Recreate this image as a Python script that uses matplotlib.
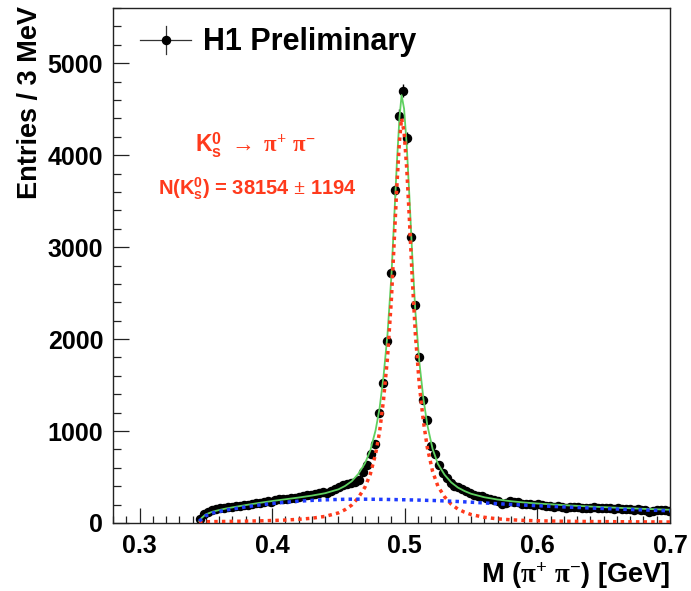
import numpy as np
import matplotlib
matplotlib.use('Agg')
import matplotlib.pyplot as plt
from matplotlib.ticker import MultipleLocator, FormatStrFormatter
from matplotlib.lines import Line2D

plt.rcParams['font.family'] = ['Liberation Sans', 'DejaVu Sans']
plt.rcParams['font.weight'] = 'bold'
plt.rcParams['mathtext.fontset'] = 'custom'
plt.rcParams['mathtext.rm'] = 'Liberation Serif'
plt.rcParams['mathtext.it'] = 'Liberation Serif:italic'
plt.rcParams['mathtext.bf'] = 'Liberation Sans:bold'
plt.rcParams['mathtext.sf'] = 'Liberation Sans'

# ---------------- data ----------------
bin_start = 0.3455   # centre of first 3 MeV bin (GeV)
bin_width = 0.003
counts = [40, 95, 125, 140, 152, 160, 168, 172, 170, 185,
          190, 198, 195, 210, 215, 222, 230, 236, 232, 248,
          265, 258, 262, 275, 270, 285, 290, 300, 308, 312,
          325, 340, 330, 350, 370, 390, 415, 420, 440, 450,
          470, 560, 630, 745, 860, 1200, 1520, 1980, 2720, 3620,
          4430, 4700, 4190, 3110, 2370, 1810, 1340, 1120, 835, 745,
          635, 545, 490, 440, 405, 395, 365, 345, 330, 305,
          290, 292, 270, 262, 250, 238, 205, 215, 240, 228,
          225, 212, 208, 210, 200, 205, 195, 188, 180, 178,
          185, 172, 168, 170, 170, 172, 160, 162, 168, 170,
          160, 158, 165, 158, 152, 160, 155, 148, 152, 145,
          148, 142, 140, 122, 128, 145, 142, 140, 135]

fit_x = [0.345, 0.347, 0.350, 0.355, 0.360, 0.365, 0.370, 0.380, 0.390, 0.400,
         0.410, 0.420, 0.430, 0.440, 0.450, 0.455, 0.460, 0.465, 0.470, 0.474,
         0.478, 0.481, 0.484, 0.487, 0.490, 0.492, 0.494, 0.496, 0.4976, 0.4995,
         0.5015, 0.5035, 0.5055, 0.508, 0.511, 0.514, 0.517, 0.521, 0.525, 0.530,
         0.535, 0.540, 0.545, 0.550, 0.560, 0.570, 0.580, 0.590, 0.600, 0.620,
         0.640, 0.660, 0.680, 0.700]
bkg_fit = [20, 45, 80, 108, 125, 140, 152, 175, 195, 212,
           226, 237, 246, 252, 256, 258, 259, 259, 259, 258,
           258, 257, 257, 256, 255, 255, 254, 254, 253, 253,
           252, 251, 251, 250, 249, 248, 246, 245, 243, 240,
           237, 234, 230, 226, 218, 210, 202, 195, 188, 175,
           163, 152, 142, 133]
sig_fit = [0, 12, 14, 15, 16, 17, 18, 20, 23, 27,
           32, 40, 52, 72, 110, 145, 195, 275, 390, 530,
           750, 990, 1340, 1800, 2450, 3050, 3650, 4150, 4400, 4250,
           3850, 3300, 2700, 2050, 1500, 1110, 820, 560, 400, 285,
           205, 152, 118, 92, 62, 45, 35, 28, 24, 19,
           16, 14, 12, 11]

x_ticks_fmt = '%.1f'
legend_label = 'H1 Preliminary'
y_title = 'Entries / 3 MeV'
x_title = r'M ($\mathrm{\pi}^{+}$ $\mathrm{\pi}^{-}$) [GeV]'
decay_text = r'K$^{\mathbf{0}}_{\mathbf{s}}$ $\rightarrow$ $\mathrm{\pi}^{+}$ $\mathrm{\pi}^{-}$'
yield_text = r'N(K$^{\mathbf{0}}_{\mathbf{s}}$) = 38154 $\pm$ 1194'

# ---------------- plot ----------------
RED = '#ff3a1c'
BLUE = '#1f3cff'
GREEN = '#5fd060'

W, H = 691, 591
fig = plt.figure(figsize=(W / 100, H / 100), dpi=100)
ax = fig.add_axes([113 / W, (H - 523) / H, (670 - 113) / W, (523 - 8) / H])

counts_a = np.array(counts, dtype=float)
centers = bin_start + bin_width * np.arange(len(counts_a))
ax.errorbar(centers, counts_a, yerr=np.sqrt(counts_a), xerr=bin_width / 2,
            fmt='o', color='black', ms=5.8, elinewidth=1.0, capsize=0, zorder=2)

fx = np.array(fit_x)
bk = np.array(bkg_fit, dtype=float)
sg = np.array(sig_fit, dtype=float)
ax.plot(fx, bk + sg, color=GREEN, lw=1.3, zorder=3)
ax.plot(fx, sg, color=RED, lw=2.5, ls=(0, (1.0, 1.2)), zorder=4)
ax.plot(fx, bk, color=BLUE, lw=2.5, ls=(0, (1.0, 1.2)), zorder=5)

ax.set_xlim(0.28, 0.70)
ax.set_ylim(0, 5600)
ax.xaxis.set_major_locator(MultipleLocator(0.1))
ax.xaxis.set_minor_locator(MultipleLocator(0.01))
ax.yaxis.set_major_locator(MultipleLocator(1000))
ax.yaxis.set_minor_locator(MultipleLocator(200))
ax.xaxis.set_major_formatter(FormatStrFormatter(x_ticks_fmt))
ax.yaxis.set_major_formatter(FormatStrFormatter('%d'))
ax.tick_params(which='both', direction='in', top=False, right=False, width=0.9, color='#222222')
ax.tick_params(axis='x', which='major', length=10.5, pad=8, labelsize=18)
ax.tick_params(axis='x', which='minor', length=5.3)
ax.tick_params(axis='y', which='major', length=11.5, pad=7, labelsize=18)
ax.tick_params(axis='y', which='minor', length=5.8)
for s in ax.spines.values():
    s.set_linewidth(1.0)
    s.set_color('#222222')

fig.text(30 / W, 1 - 6 / H, y_title, rotation=90, ha='center', va='top', fontsize=19.5, fontweight='bold')
fig.text(670 / W, 1 - 576 / H, x_title, ha='right', va='center', fontsize=19.5, fontweight='bold')

# legend
tf = fig.transFigure
fig.add_artist(Line2D([140 / W, 191 / W], [1 - 40 / H, 1 - 40 / H], color='#333333', lw=0.9, transform=tf))
fig.add_artist(Line2D([166 / W, 166 / W], [1 - 26 / H, 1 - 54 / H], color='#333333', lw=0.9, transform=tf))
fig.add_artist(Line2D([166 / W], [1 - 40 / H], marker='o', ms=5.8, color='black', transform=tf))
fig.text(203 / W, 1 - 50 / H, legend_label, ha='left', va='baseline', fontsize=22, fontweight='bold')

fig.text(195 / W, 1 - 152 / H, decay_text, ha='left', va='baseline', fontsize=16.5, fontweight='bold', color=RED)
fig.text(158 / W, 1 - 195 / H, yield_text, ha='left', va='baseline', fontsize=14.5, fontweight='bold', color=RED)

fig.savefig('out.png', dpi=100)
